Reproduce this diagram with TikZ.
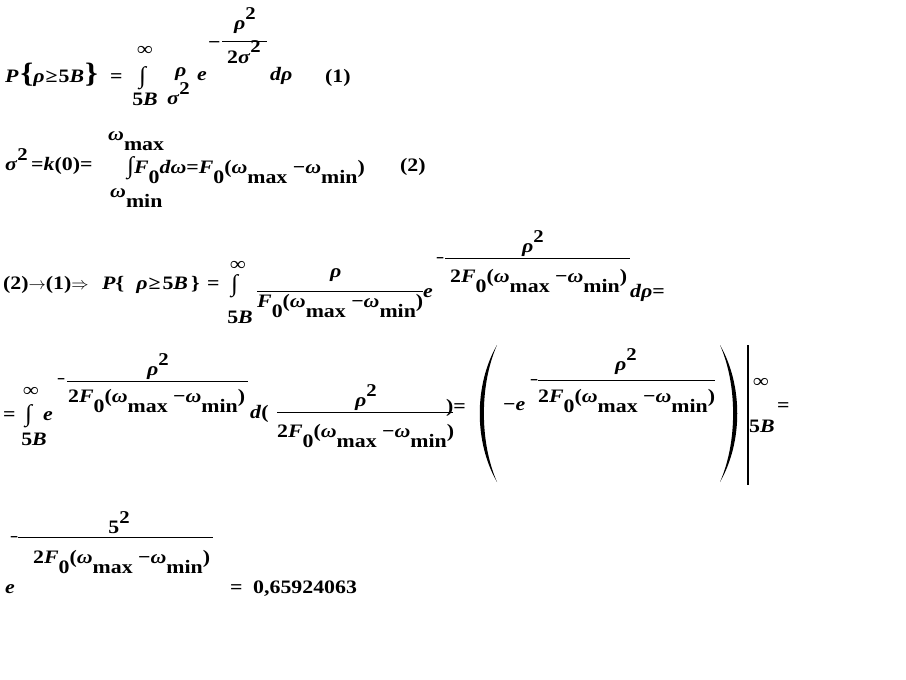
\documentclass[tikz,border=0pt]{standalone}
\usepackage{fontspec}
\setmainfont[FakeStretch=1.15]{Liberation Serif}

\newcommand{\vr}[1]{\textit{#1}}
\newcommand{\lowr}[1]{\raisebox{-10pt}{#1}}
\newcommand{\highr}[1]{\raisebox{10pt}{\fontsize{18}{18}\selectfont #1}}
\newcommand{\brc}[1]{{\fontsize{28}{28}\selectfont #1}}
\newcommand{\mn}{\scalebox{0.65}[1]{−}}
\newcommand{\intg}{\scalebox{1.15}[1.25]{∫}}
\newcommand{\dnm}{2\vr{F}\lowr{0}(\vr{ω}\lowr{max} −\vr{ω}\lowr{min})}

\begin{document}
\begin{tikzpicture}[x=1pt, y=-1pt,
    every node/.style={anchor=base west, inner sep=0pt, font={\fontsize{19}{23}\selectfont\bfseries}},
    ctr/.style={anchor=base},
    bar/.style={line width=0.9pt},
    vbar/.style={line width=1.6pt}]

    \useasboundingbox (0,0) rectangle (906,680);

    % Equation (1)
    \node (p1) at (5,82) {\vr{P}\hspace{2pt}\brc{\{}\vr{ρ}\hspace{1pt}≥\hspace{1pt}5\vr{B}\hspace{1pt}\brc{\}}};
    \node (eq1) at (110,82) {=};
    \node[ctr] (inf1) at (145,56) {∞};
    \node (int1) at (139,83) {\intg};
    \node[ctr] (lim1) at (145,105) {5\vr{B}};
    \node (rho1) at (175,76) {\vr{ρ}};
    \node (sig1) at (167,104) {\vr{σ}\highr{2}};
    \node (e1) at (197,80) {\vr{e}};
    \node (mi1) at (208,48) {−};
    \draw[bar] (222,41) -- (267,41);
    \node[ctr] (num1) at (245,30) {\vr{ρ}\highr{2}};
    \node[ctr] (den1) at (244,63) {2\vr{σ}\highr{2}};
    \node (dr1) at (270,80) {\vr{dρ}};
    \node (no1) at (325,82) {(1)};

    % Equation (2)
    \node (s2) at (5,170) {\vr{σ}\highr{2}};
    \node (k2) at (31,170) {=\vr{k}(0)=};
    \node (wmax) at (108,140) {\vr{ω}\lowr{max}};
    \node (int2) at (127,173) {\intg\vr{F}\lowr{0}\vr{dω}=\vr{F}\lowr{0}(\vr{ω}\lowr{max} −\vr{ω}\lowr{min})};
    \node (wmin) at (110,197) {\vr{ω}\lowr{min}};
    \node (no2) at (400,171) {(2)};

    % (2) into (1)
    \node (l3) at (3,289) {(2)$\rightarrow$(1)$\Rightarrow$};
    \node (p3) at (102,289) {\vr{P}\{\hspace{12pt}\vr{ρ}\hspace{1pt}≥\hspace{2pt}5\vr{B}\hspace{3pt}\}};
    \node (eq3) at (207,289) {=};
    \node[ctr] (inf3) at (238,270) {∞};
    \node (int3) at (231,291) {\intg};
    \node[ctr] (lim3) at (240,323) {5\vr{B}};
    \draw[bar] (257,291) -- (423,291);
    \node (rho3) at (330,277) {\vr{ρ}};
    \node (den3) at (257,307) {\vr{F}\lowr{0}(\vr{ω}\lowr{max} −\vr{ω}\lowr{min})};
    \node (e3) at (423,297) {\vr{e}};
    \node (mi3) at (436,264) {\mn};
    \draw[bar] (445,258) -- (630,258);
    \node[ctr] (num3) at (533,252) {\vr{ρ}\highr{2}};
    \node (dn3) at (450,282) {\dnm};
    \node (dr3) at (630,297) {\vr{dρ}=};

    % Substitution
    \node (eq4) at (3,420) {=};
    \node[ctr] (inf4) at (31,396) {∞};
    \node (int4) at (25,421) {\intg};
    \node[ctr] (lim4) at (34,445) {5\vr{B}};
    \node (e4) at (43,420) {\vr{e}};
    \node (mi4) at (57,385) {\mn};
    \draw[bar] (67,381) -- (248,381);
    \node[ctr] (num4) at (158,375) {\vr{ρ}\highr{2}};
    \node (dn4) at (68,402) {\dnm};
    \node (d4) at (250,418) {\vr{d}(};
    \draw[bar] (277,412) -- (453,412);
    \node[ctr] (num4b) at (366,406) {\vr{ρ}\highr{2}};
    \node (dn4b) at (277,437) {\dnm};
    \node (cl4) at (446,412) {)=};
    % big brackets
    \fill (497,345) .. controls (474,385) and (474,442) .. (497,482)
        .. controls (479.5,442) and (479.5,385) .. (497,345);
    \node (me4) at (503,410) {−\vr{e}};
    \node (mi4b) at (530,386) {\mn};
    \draw[bar] (538,380) -- (715,380);
    \node[ctr] (num4c) at (626,370) {\vr{ρ}\highr{2}};
    \node (dn4c) at (538,402) {\dnm};
    \fill (720,345) .. controls (743,385) and (743,442) .. (720,482)
        .. controls (737.5,442) and (737.5,385) .. (720,345);
    \draw[vbar] (748,345) -- (748,485);
    \node (inf4b) at (753,387) {∞};
    \node (lim4b) at (749,432) {5\vr{B}};
    \node (eq4b) at (777,411) {=};

    % Result
    \node (e5) at (5,593) {\vr{e}};
    \node (mi5) at (10,543) {\mn};
    \draw[bar] (18,537) -- (213,537);
    \node[ctr] (num5) at (119,533) {5\highr{2}};
    \node (dn5) at (33,563) {\dnm};
    \node (eq5) at (230,593) {=};
    \node (res5) at (253,593) {0,65924063};

\end{tikzpicture}
\end{document}
